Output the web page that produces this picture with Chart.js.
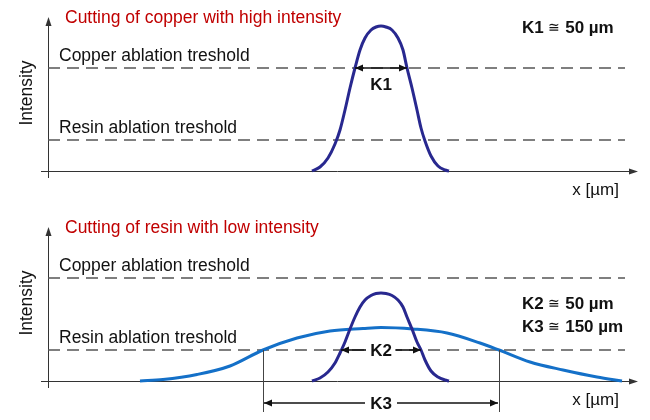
<!DOCTYPE html>
<html>
<head>
<meta charset="utf-8">
<script src="https://cdn.jsdelivr.net/npm/chart.js@4.4.0/dist/chart.umd.min.js"></script>
<style>
  html, body { margin: 0; padding: 0; background: #fff; }
  #wrap { width: 650px; height: 420px; }
  canvas { display: block; }
</style>
</head>
<body>
<div id="wrap">
  <canvas id="topChart" width="650" height="210"></canvas>
  <canvas id="bottomChart" width="650" height="210"></canvas>
</div>
<script>
// beam position in µm, 0 = beam centre
const narrowX     = [-69, -61, -53, -46, -41, -36, -31, -26, -21, -16, -10, -5, 0, 5, 11, 17, 22, 26, 31, 36, 40, 44, 50, 57, 64, 68];
const highNarrowY = [0, 4, 13, 27, 41, 61, 83, 103, 121, 133, 141, 144, 145, 144, 141, 133, 121, 103, 83, 61, 43, 30, 15, 5, 1, 0];
const lowNarrowY  = [0, 3, 9, 18, 28, 39, 52, 64, 74, 81, 85.5, 87.5, 88, 87.5, 85.5, 81, 74, 64, 52, 39, 31, 21, 10, 4, 1, 0];

const wideX    = [-241, -218, -184, -151, -118, -84, -51, -18, 0, 32, 66, 99, 118, 149, 182, 216, 241];
const lowWideY = [0, 1.5, 6.5, 15, 31, 43, 50, 52.5, 53.5, 52, 48, 38, 31, 19, 11, 4, 0];

const copperThreshold = 103;
const resinThreshold  = 31;
const thresholdSpan   = [-333, 244];
const xRange = [-340, 257];
const yRange = [-7, 154];
const yAxisAt = -333;

const k1Span = [-26, 26];
const k2Span = [-40, 40];
const k3Span = [-118, 118];

const FONT = '"Liberation Sans", Arial, sans-serif';

function pts(xs, ys) { return xs.map((x, i) => ({ x: x, y: ys[i] })); }

function curve(data, color) {
    return {
        data: data, borderColor: color, borderWidth: 3, pointRadius: 0,
        cubicInterpolationMode: 'monotone', fill: false
    };
}
function dashed(y) {
    return {
        data: pts(thresholdSpan, [y, y]), borderColor: '#555', borderWidth: 1.3,
        borderDash: [12, 7], pointRadius: 0, fill: false
    };
}

function head(ctx, x, y, dir, len, hw) {
    ctx.beginPath();
    if (dir === 'right') { ctx.moveTo(x, y); ctx.lineTo(x - len, y - hw); ctx.lineTo(x - len, y + hw); }
    if (dir === 'left')  { ctx.moveTo(x, y); ctx.lineTo(x + len, y - hw); ctx.lineTo(x + len, y + hw); }
    if (dir === 'up')    { ctx.moveTo(x, y); ctx.lineTo(x - hw, y + len); ctx.lineTo(x + hw, y + len); }
    ctx.closePath();
    ctx.fill();
}

// line from x1 (left) to x2 (right), optional heads at either end
function hArrow(ctx, x1, x2, y, headLeft, headRight) {
    ctx.beginPath(); ctx.moveTo(x1, y); ctx.lineTo(x2, y); ctx.stroke();
    if (headLeft) head(ctx, x1, y, 'left', 8, 3.5);
    if (headRight) head(ctx, x2, y, 'right', 8, 3.5);
}

// "K1 ≅ 50 µm": bold parts with a thin ≅ sign
function note(ctx, x, y, parts) {
    parts.forEach((p, i) => {
        ctx.font = (i === 1 ? '14px ' : 'bold 17px ') + FONT;
        ctx.fillText(p, x, y);
        x += ctx.measureText(p).width;
    });
}

function makeChart(id, datasets, extra) {
    const sketch = {
        id: 'sketch',
        beforeDatasetsDraw(chart) {
            const ctx = chart.ctx, sx = v => chart.scales.x.getPixelForValue(v), sy = v => chart.scales.y.getPixelForValue(v);
            ctx.save();
            ctx.strokeStyle = '#333'; ctx.fillStyle = '#333'; ctx.lineWidth = 1;
            // y axis with arrow
            const ax = Math.round(sx(yAxisAt)) + 0.5;
            ctx.beginPath(); ctx.moveTo(ax, sy(yRange[0])); ctx.lineTo(ax, sy(yRange[1]) + 4); ctx.stroke();
            head(ctx, ax, sy(yRange[1]), 'up', 9, 3);
            // x axis with arrow
            const ay = Math.round(sy(0)) + 0.5;
            ctx.beginPath(); ctx.moveTo(sx(xRange[0]), ay); ctx.lineTo(sx(xRange[1]) - 4, ay); ctx.stroke();
            head(ctx, sx(xRange[1]), ay, 'right', 9, 3);
            ctx.restore();
        },
        afterDatasetsDraw(chart) {
            const ctx = chart.ctx, sx = v => chart.scales.x.getPixelForValue(v), sy = v => chart.scales.y.getPixelForValue(v);
            ctx.save();
            ctx.font = '17.5px ' + FONT;
            ctx.textBaseline = 'alphabetic';
            ctx.textAlign = 'left';
            ctx.fillStyle = '#c00000';
            ctx.fillText(extra.title, sx(-316), sy(148));
            ctx.fillStyle = '#111';
            ctx.fillText('Copper ablation treshold', sx(-322), sy(copperThreshold + 7));
            ctx.fillText('Resin ablation treshold', sx(-322), sy(resinThreshold + 7));
            ctx.font = '17px ' + FONT;
            ctx.textAlign = 'right';
            ctx.textBaseline = 'middle';
            ctx.fillText('x [µm]', sx(238), sy(-19));
            // rotated y title
            ctx.font = '17.5px ' + FONT;
            ctx.save();
            ctx.translate(sx(-353.5), sy(78));
            ctx.rotate(-Math.PI / 2);
            ctx.textAlign = 'center';
            ctx.fillText('Intensity', 0, 0);
            ctx.restore();

            ctx.textAlign = 'left';
            extra.notes.forEach(n => note(ctx, sx(141), sy(n.y), n.parts));

            ctx.font = 'bold 17px ' + FONT;
            ctx.strokeStyle = '#111'; ctx.fillStyle = '#111'; ctx.lineWidth = 1.6;
            ctx.textAlign = 'center';
            if (extra.k1) {
                const y = sy(copperThreshold);
                hArrow(ctx, sx(k1Span[0]), sx(k1Span[1]), y, true, true);
                ctx.fillText('K1', sx(0), sy(86));
            }
            if (extra.k2) {
                const y = sy(resinThreshold);
                ctx.fillStyle = '#fff'; ctx.fillRect(sx(-14), y - 9, sx(14) - sx(-14), 18);
                ctx.fillStyle = '#111';
                ctx.fillText('K2', sx(0), y + 1);
                hArrow(ctx, sx(k2Span[0]), sx(-15), y, true, false);
                hArrow(ctx, sx(15), sx(k2Span[1]), y, false, true);

                // K3 marker lines below the axis
                ctx.strokeStyle = '#444'; ctx.lineWidth = 1;
                k3Span.forEach(v => {
                    const x = Math.round(sx(v)) + 0.5;
                    ctx.beginPath(); ctx.moveTo(x, sy(resinThreshold)); ctx.lineTo(x, sy(-31)); ctx.stroke();
                });
                ctx.strokeStyle = '#111'; ctx.lineWidth = 1.6;
                const y3 = sy(-22);
                ctx.fillText('K3', sx(0), y3 + 1);
                hArrow(ctx, sx(k3Span[0]) + 1, sx(-16), y3, true, false);
                hArrow(ctx, sx(16), sx(k3Span[1]) - 1, y3, false, true);
            }
            ctx.restore();
        }
    };
    return new Chart(document.getElementById(id), {
        type: 'line',
        data: { datasets: datasets },
        options: {
            responsive: false,
            animation: false,
            events: [],
            layout: { padding: { left: 41, right: 12, top: 17, bottom: 32 } },
            plugins: { legend: { display: false }, tooltip: { enabled: false } },
            scales: {
                x: { type: 'linear', min: xRange[0], max: xRange[1], display: false },
                y: { type: 'linear', min: yRange[0], max: yRange[1], display: false }
            }
        },
        plugins: [sketch]
    });
}

makeChart('topChart', [
    curve(pts(narrowX, highNarrowY), '#28288f'),
    dashed(copperThreshold),
    dashed(resinThreshold)
], {
    title: 'Cutting of copper with high intensity',
    notes: [{ parts: ['K1 ', '\u2245', ' 50 µm'], y: 142.5 }],
    k1: true
});

makeChart('bottomChart', [
    curve(pts(narrowX, lowNarrowY), '#28288f'),
    curve(pts(wideX, lowWideY), '#1470c8'),
    dashed(copperThreshold),
    dashed(resinThreshold)
], {
    title: 'Cutting of resin with low intensity',
    notes: [{ parts: ['K2 ', '\u2245', ' 50 µm'], y: 77 }, { parts: ['K3 ', '\u2245', ' 150 µm'], y: 54 }],
    k2: true
});
</script>
</body>
</html>
